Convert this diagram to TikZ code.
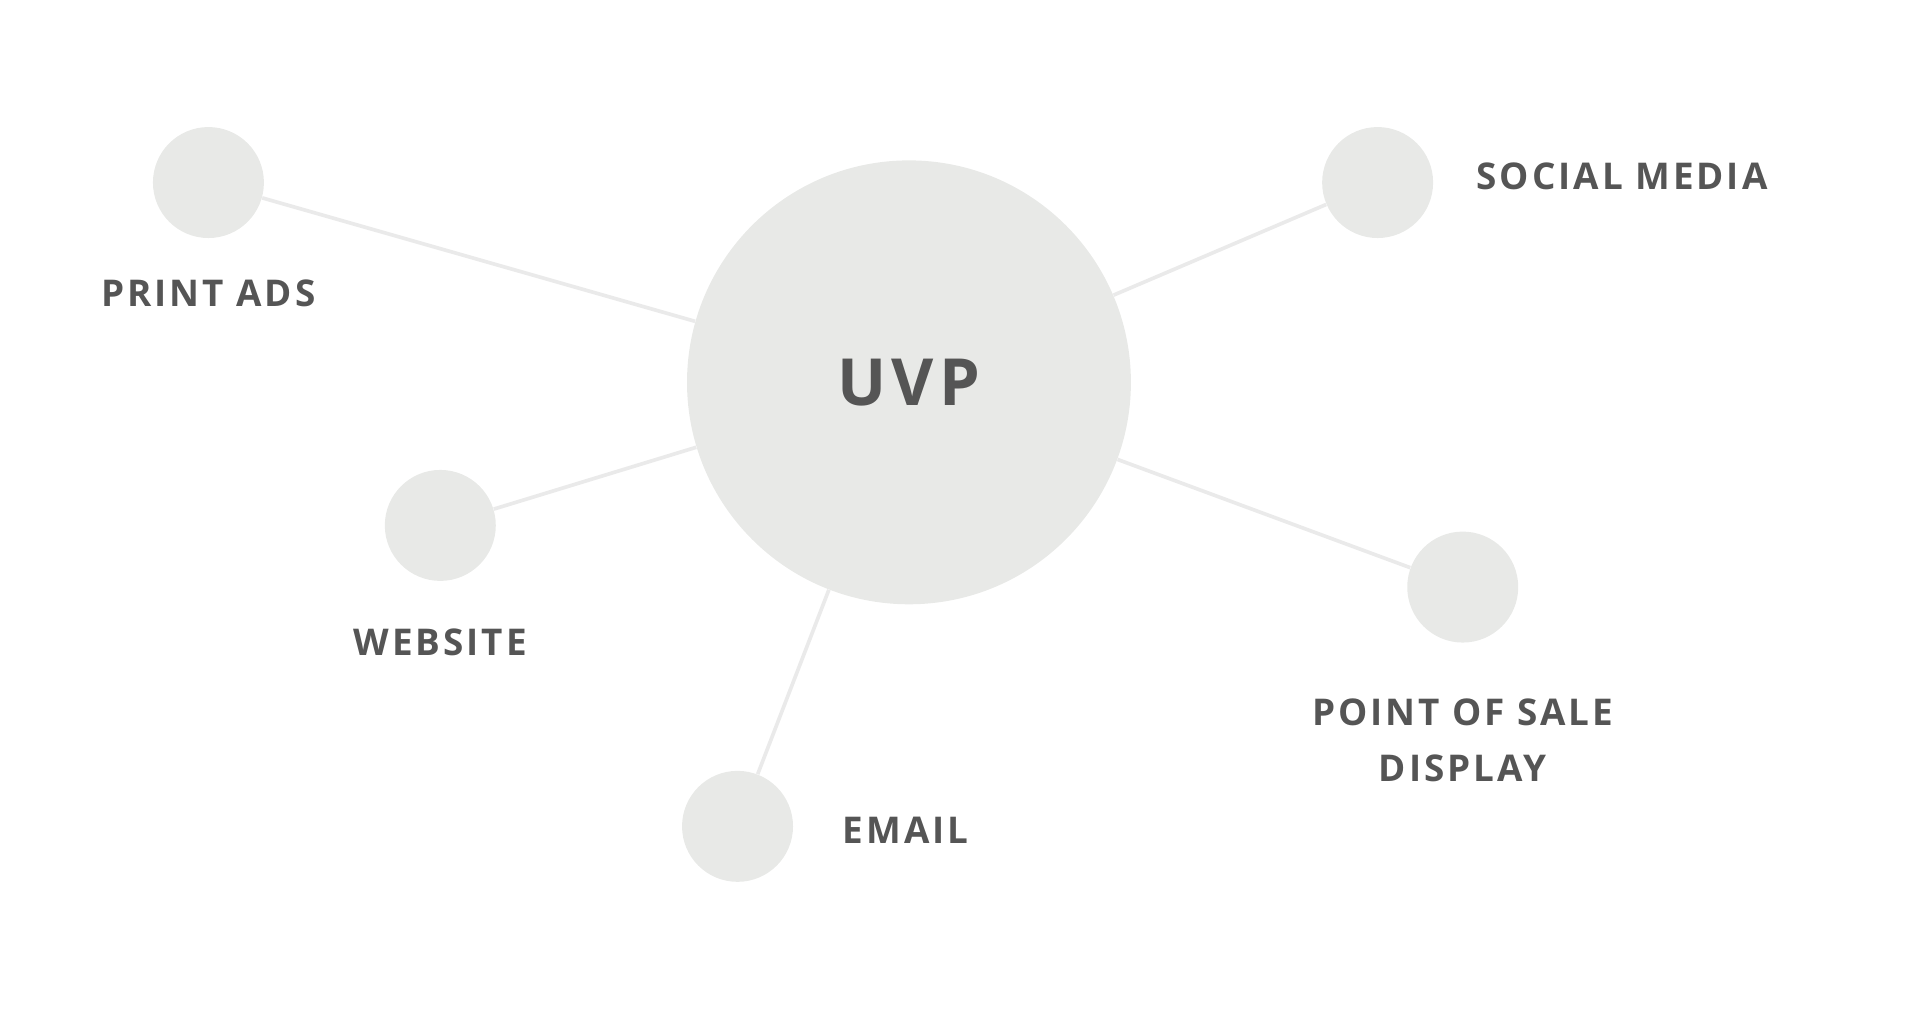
\documentclass[tikz,border=0pt]{standalone}
\usepackage{fontspec}
\setmainfont{Open Sans}[LetterSpace=8]
\definecolor{dotgray}{HTML}{E8E9E7}
\definecolor{linegray}{HTML}{EAEAEA}
\definecolor{textgray}{HTML}{555555}
\tikzset{
  hub/.style={circle, fill=dotgray, minimum size=7.2cm, inner sep=0pt},
  spoke/.style={circle, fill=dotgray, minimum size=1.8cm, inner sep=0pt},
  tag/.style={text=textgray, font=\fontsize{17}{22}\selectfont\bfseries, inner sep=0pt},
  link/.style={draw=linegray, line width=1.7pt}
}
\begin{document}
\begin{tikzpicture}[x=0.02cm,y=-0.02cm]
\useasboundingbox (0,0) rectangle (1560,826);
\node[hub] (uvp) at (737,310) {};
\node[text=textgray, font=\fontsize{30}{36}\selectfont\bfseries] at (uvp) {UVP};
\node[spoke] (print) at (169,148) {};
\node[spoke] (social) at (1117,148) {};
\node[spoke] (web) at (357,426) {};
\node[spoke] (pos) at (1186,476) {};
\node[spoke] (email) at (598,670) {};
\path[link] (print) -- (uvp);
\path[link] (social) -- (uvp);
\path[link] (web) -- (uvp);
\path[link] (pos) -- (uvp);
\path[link] (email) -- (uvp);
\node[tag] (printlbl) at (169,238) {PRINT ADS};
\node[tag, anchor=west] (sociallbl) at (1197,143) {SOCIAL MEDIA};
\node[tag] (weblbl) at (357,521) {WEBSITE};
\node[tag, align=center] (poslbl) at (1186,600) {POINT OF SALE\\[4pt]DISPLAY};
\node[tag, anchor=west] (emaillbl) at (683,673) {EMAIL};
\end{tikzpicture}
\end{document}
